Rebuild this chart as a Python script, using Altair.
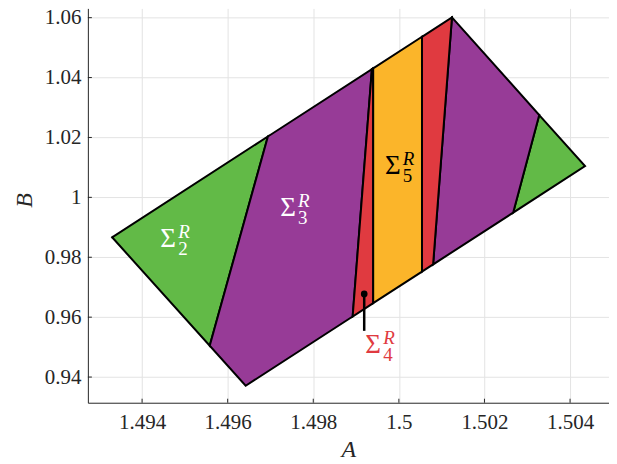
import altair as alt
import pandas as pd

# ---- axis ticks ----
A_TICKS = [1.494, 1.496, 1.498, 1.5, 1.502, 1.504]
B_TICKS = [0.94, 0.96, 0.98, 1.0, 1.02, 1.04, 1.06]

# ---- region polygons (A, B vertices) ----
green_left_A = [1.49330, 1.49694, 1.49558]
green_left_B = [0.98667, 1.02033, 0.95045]

purple_left_A = [1.49694, 1.49937, 1.49892, 1.49642, 1.49558]
purple_left_B = [1.02033, 1.04280, 0.96022, 0.93710, 0.95045]

red_left_A = [1.49937, 1.49940, 1.49940, 1.49892]
red_left_B = [1.04280, 1.04308, 0.96466, 0.96022]

orange_A = [1.49940, 1.50054, 1.50054, 1.49940]
orange_B = [1.04308, 1.05362, 0.97520, 0.96466]

red_right_A = [1.50054, 1.50124, 1.50080, 1.50054]
red_right_B = [1.05362, 1.06009, 0.97760, 0.97520]

purple_right_A = [1.50124, 1.50328, 1.50267, 1.50080]
purple_right_B = [1.06009, 1.02748, 0.99489, 0.97760]

green_right_A = [1.50328, 1.50435, 1.50267]
green_right_B = [1.02748, 1.01043, 0.99489]

# ---- annotations ----
label_A = [1.49461, 1.49741, 1.49986, 1.49940]
label_B = [0.98610, 0.99643, 1.01043, 0.95077]
label_sub = ["2", "3", "5", "4"]
label_color = ["#ffffff", "#ffffff", "#000000", "#E03A40"]

pointer_A = [1.49919, 1.49919]
pointer_B = [0.96777, 0.95543]

COLORS = {
    "green": "#62BA47",
    "purple": "#973B97",
    "red": "#E03A40",
    "orange": "#FBB52A",
}

polys = [
    ("gl", "green", green_left_A, green_left_B),
    ("pl", "purple", purple_left_A, purple_left_B),
    ("rl", "red", red_left_A, red_left_B),
    ("o", "orange", orange_A, orange_B),
    ("rr", "red", red_right_A, red_right_B),
    ("pr", "purple", purple_right_A, purple_right_B),
    ("gr", "green", green_right_A, green_right_B),
]
rows = []
for pid, col, xs, ys in polys:
    n = len(xs)
    for i in range(n + 1):  # close the ring
        rows.append({"poly": pid, "col": col, "i": i, "A": xs[i % n], "B": ys[i % n]})
df = pd.DataFrame(rows)

FONT = "Liberation Serif"
TXT = "#262626"

xenc = alt.X(
    "A:Q",
    scale=alt.Scale(domain=[1.492733, 1.50491], nice=False, zero=False),
    axis=alt.Axis(values=A_TICKS, format="~g", title="A", titleFontStyle="italic",
                  titleFontWeight="normal", titleFontSize=24, titleFont=FONT,
                  titleColor=TXT, titleBaseline="alphabetic", titleY=54,
                  labelPadding=9),
)
yenc = alt.Y(
    "B:Q",
    scale=alt.Scale(domain=[0.93143, 1.0631], nice=False, zero=False),
    axis=alt.Axis(values=B_TICKS, format="~g", title="B", titleFontStyle="italic",
                  titleFontWeight="normal", titleFontSize=24, titleFont=FONT,
                  titleColor=TXT, titleBaseline="alphabetic", titleAngle=270,
                  titleX=-56, titleY=192, labelPadding=7),
)

layers = []
for col, hexc in COLORS.items():
    layers.append(
        alt.Chart(df[df["col"] == col])
        .mark_line(fill=hexc, stroke="black", strokeWidth=2, strokeJoin="miter",
                   strokeCap="square")
        .encode(x=xenc, y=yenc, detail="poly:N", order="i:Q")
    )

pdf = pd.DataFrame({"A": pointer_A, "B": pointer_B})
layers.append(
    alt.Chart(pdf).mark_line(color="black", strokeWidth=2.5).encode(x=xenc, y=yenc)
)
layers.append(
    alt.Chart(pdf.iloc[[0]]).mark_point(filled=True, color="black", size=45, opacity=1)
    .encode(x=xenc, y=yenc)
)

ldf = pd.DataFrame({"A": label_A, "B": label_B, "sub": label_sub, "c": label_color})
ldf["sig"] = "Σ"
ldf["sup"] = "R"
layers.append(
    alt.Chart(ldf).mark_text(font=FONT, fontSize=27, align="center", baseline="middle")
    .encode(x=xenc, y=yenc, text="sig:N", color=alt.Color("c:N", scale=None))
)
layers.append(
    alt.Chart(ldf).mark_text(font=FONT, fontSize=19, fontStyle="italic", align="left",
                             baseline="middle", dx=10, dy=-7)
    .encode(x=xenc, y=yenc, text="sup:N", color=alt.Color("c:N", scale=None))
)
layers.append(
    alt.Chart(ldf).mark_text(font=FONT, fontSize=19, align="left",
                             baseline="middle", dx=10, dy=10)
    .encode(x=xenc, y=yenc, text="sub:N", color=alt.Color("c:N", scale=None))
)

# inward tick marks
layers.append(
    alt.Chart(pd.DataFrame({"A": A_TICKS})).mark_rule(color=TXT, strokeWidth=1)
    .encode(x=xenc, y=alt.value(395), y2=alt.value(391))
)
layers.append(
    alt.Chart(pd.DataFrame({"B": B_TICKS})).mark_rule(color=TXT, strokeWidth=1)
    .encode(y=yenc, x=alt.value(0), x2=alt.value(4))
)

chart = (
    alt.layer(*layers)
    .properties(width=522, height=395, autosize=alt.AutoSizeParams(type="none"),
                padding={"left": 80, "top": 0, "right": 0, "bottom": 60})
    .configure_view(stroke=None)
    .configure_axis(
        grid=True, gridColor="#e3e3e3", gridWidth=1,
        domainColor=TXT, domainWidth=1, tickSize=0,
        labelFont=FONT, labelFontSize=21, labelColor=TXT,
    )
)

chart.save("out.html", embed_options={"renderer": "svg", "actions": False})
